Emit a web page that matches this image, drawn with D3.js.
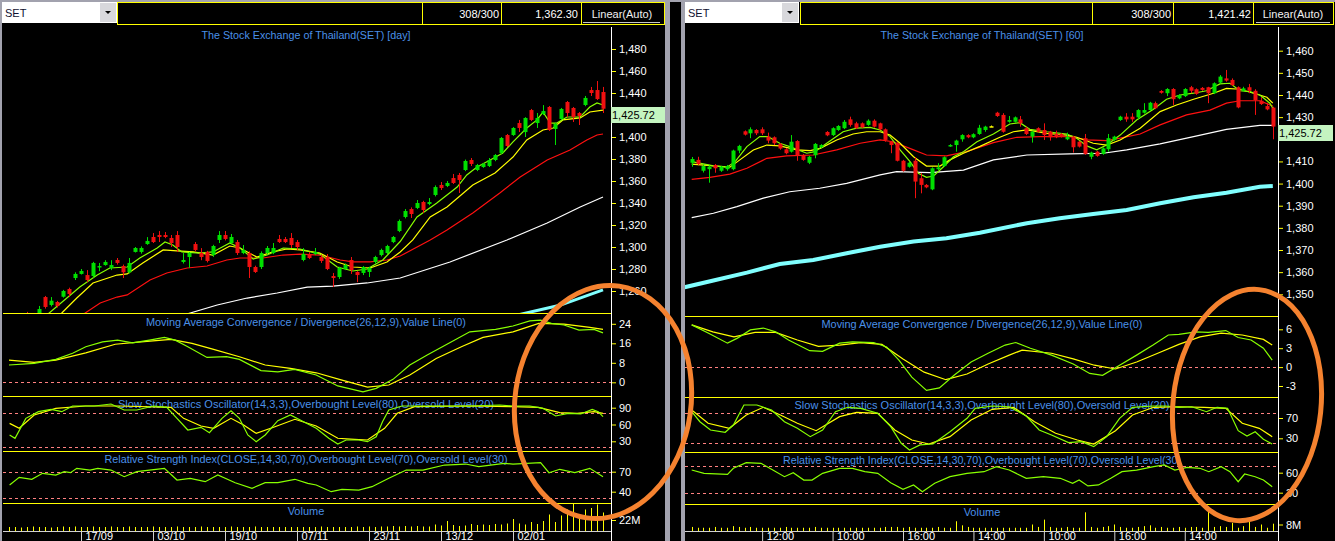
<!DOCTYPE html>
<html><head><meta charset="utf-8">
<script src="https://cdn.jsdelivr.net/npm/d3@7"></script>
<style>
html,body{margin:0;padding:0;background:#000;overflow:hidden}
svg{display:block;font-family:"Liberation Sans",Arial,sans-serif}
</style></head><body>
<svg id="c" width="1335" height="541"></svg>
<script>
// ---------------- LEFT (daily) DATA ----------------
const leftOpen = [1218,1222,1227,1236,1235,1240,1254.5,1247.3,1250,1254.8,
1261.8,1271.8,1275.5,1274.5,1273.6,1281.8,1283.6,1281,1288.2,1282.7,
1277,1295.5,1295.5,1302.7,1309.1,1310.9,1310.9,1308.2,1310.9,1286.4,
1290.9,1302.7,1294.5,1295.5,1292.7,1306.4,1310.9,1303.6,1304.5,1294.5,
1294.5,1281.8,1281.8,1294.5,1294.5,1307.3,1307.3,1308.2,1304.5,1288.2,
1293.6,1293.6,1290.9,1290.9,1273.6,1272.7,1280,1288.2,1277.3,1276.4,
1277.3,1286.4,1292.7,1294.5,1304.5,1314.5,1327.3,1334.5,1335.5,1340.9,
1339.1,1347.3,1356.4,1355.5,1362.7,1365.5,1370,1379.1,1370,1372.7,
1373.6,1379.1,1385.5,1401.8,1401.8,1412.7,1404.5,1424.5,1412.7,1420.9,
1427.3,1407.3,1416.4,1431.8,1426.4,1421.8,1429.1,1442.7,1442.7,1440.9];
const leftHigh = [1224,1229,1233,1241,1240,1246.4,1255.5,1254.5,1251,1261,
1263,1277,1280,1279,1286.5,1285.5,1288,1288,1290,1284,
1290,1300,1300.5,1309,1312.7,1314.5,1313.6,1310.9,1314.5,1294.5,
1295.5,1304.5,1299,1296.5,1302,1314.5,1314.5,1311.8,1306.4,1301.8,
1296,1283,1296,1300.9,1303.6,1310.9,1309.1,1312.7,1306.4,1299,
1295.5,1299.1,1292.7,1293.6,1276.4,1282,1285,1290.9,1278,1282.7,
1282,1292,1298.5,1302,1310,1325,1334.5,1336,1342.7,1342,
1344.5,1356,1359.1,1360,1366.4,1367.3,1379.5,1380.9,1375.5,1376.4,
1380.9,1384.5,1400,1402.7,1409,1415.5,1418,1425.5,1421.8,1429,
1428.2,1413,1426.4,1432.7,1427.3,1422.7,1437.3,1445.5,1450.9,1445.5];
const leftLow = [1214,1219,1224,1233,1230,1239,1244,1246,1245,1254,
1254.5,1270,1275,1268,1272,1278,1283,1279,1284,1271.8,
1276,1295,1294,1302,1303.6,1304.5,1308,1300,1295.5,1285,
1281,1296,1288,1286,1291,1303.6,1306,1303,1292.7,1293.5,
1271.8,1276.4,1280,1293.5,1293.5,1303.6,1303.6,1299.1,1297.3,1287,
1289,1292.7,1285.5,1279,1263.6,1271,1279,1275.5,1268,1274.5,
1272.7,1285,1291.5,1293.5,1303.5,1313.5,1326,1326.4,1334.5,1330.9,
1338,1346,1351.8,1354.5,1357.3,1349.1,1369,1373.6,1369,1372,
1372.7,1378,1384.5,1390.9,1401,1404.5,1400,1414.5,1408.2,1420,
1405.5,1392.7,1415.5,1418.2,1413.6,1410.9,1428,1437.3,1433.6,1421.8];
const leftClose = [1222,1227,1230,1235,1238,1243.6,1245.5,1251.2,1246.4,1260,
1257.3,1275.5,1278.2,1270,1285.5,1282.7,1286.4,1283.6,1285.5,1277,
1285.5,1299.1,1299.1,1305.5,1304.5,1309.1,1309.1,1303.6,1300,1288.2,
1294.5,1297.3,1290.9,1287.3,1300.9,1310.9,1307.3,1309.1,1294.5,1297.3,
1281.8,1277.3,1294.5,1299.1,1299.1,1304.5,1304.5,1301.8,1300,1293.6,
1290,1295.5,1287.3,1280,1271.8,1280.9,1283.6,1279,1274.5,1281.8,
1280.9,1290.9,1297.3,1300.9,1309.1,1323.6,1332.7,1330,1340,1333.6,
1340.9,1354.5,1353.6,1358.2,1358.2,1360.9,1378.2,1375.5,1374.5,1375.5,
1379.1,1383.6,1399.1,1391.8,1408.2,1408.2,1417.3,1415.5,1417.3,1423.6,
1406.4,1411.8,1425.5,1421.8,1418.2,1419.1,1435.5,1440,1434.5,1425.72];
const leftVol = [8,8,7,8,9,8,8,7,8,9, 8,9,8,8,9,8,8,9,8,8, 9,8,8,8,9,8,8,8,9,8,
8,8,9,8,8,8,8,9,8,8, 8,9,8,8,8,8,8,8,8,8, 8,8,9,8,8,8,8,8,9,8,
9,8,9,9,10,9,10,9,10,9, 9,13,11,20,12,10,11,14,12,13, 12,14,13,15,24,15,13,18,14,20,
33,18,31,43,55,30,43,46,53,37];
// moving averages as [bar index, value]
const leftMaFast = [[3,1228],[6.7,1240],[11.8,1263.6],[14.7,1274.5],[16.8,1280.9],[19.7,1281.8],[21.8,1290],[24.7,1299.1],[26,1304.5],[27.3,1301.8],[28.8,1295.5],[31.8,1294.5],[34,1295.5],[36.8,1303.6],[38.5,1299.1],[40.7,1289.1],[43,1292.7],[45.7,1299.1],[48.5,1298.2],[51.8,1293.6],[54.7,1281.8],[57.3,1278.2],[59.7,1280],[62.3,1288.2],[65.2,1305],[68,1327.3],[71.3,1340],[74.7,1354.5],[76.3,1365.5],[78,1372.7],[80.2,1379.1],[82.3,1385.5],[84,1395.5],[86.3,1408.2],[88,1415.5],[89,1422.7],[90.2,1412.7],[91.3,1412.7],[93,1418.2],[95.2,1418.2],[96.8,1427.3],[98,1430.9],[99,1429.1]];
const leftMaMid = [[5,1225],[8.8,1240],[11.3,1253.6],[14,1267.3],[18,1274.5],[19.7,1275.5],[22.3,1285.5],[25.7,1297.3],[28,1296.4],[30.7,1295.5],[34,1292.7],[36.8,1300.9],[38.5,1299.1],[41.3,1290.9],[44,1295.5],[46.3,1298.2],[48.5,1297.3],[51.8,1294.5],[54.7,1286.4],[57.3,1281.8],[60.2,1280.9],[63,1286.4],[65.2,1295.5],[67.3,1306.4],[70.2,1327.3],[73,1336.4],[77.3,1356.4],[81,1367.3],[84,1381.8],[86.3,1397.3],[89,1406.4],[90.7,1408.2],[92.3,1415.5],[95.2,1417.3],[96.8,1422.7],[99,1424.5]];
const leftMaSlow = [[8,1230],[12.7,1240],[15.2,1249.1],[18,1254.5],[19.7,1256.4],[23.5,1270],[26.3,1276.4],[29.7,1280.9],[33,1282.7],[36.3,1288.2],[38.5,1290],[42.3,1290],[45.7,1292.7],[48.5,1293.6],[51.8,1292.7],[55.2,1288.2],[57.3,1286.4],[60.2,1286.4],[63,1288.2],[65.2,1291.8],[70.2,1306.4],[73,1315.5],[77.3,1330.9],[81.8,1349.1],[85.2,1363.6],[89.7,1379.1],[93.5,1388.2],[96.3,1397.3],[98,1401.8],[99,1402.7]];
const leftMaLong = [[28,1236],[30.2,1240],[34.7,1247.3],[39.7,1253.6],[44.7,1258.2],[49.7,1263.6],[54,1264.5],[59.7,1267.3],[65.2,1271.8],[73.5,1286.4],[83,1306.4],[89.7,1321.8],[95.2,1336.4],[99,1345.5]];
const leftMaCyan = [[83,1236],[91.8,1247],[99,1261]];
const leftMacd = [[0,7.1],[4.2,7.8],[7.8,9.4],[10.6,11.9],[12.8,14.6],[15.6,16.6],[18.1,17.3],[20.6,16.2],[23.4,17.3],[25.9,18.4],[27.7,17.3],[29.8,14.6],[33,10.2],[36.25,10.5],[38.4,9.4],[42,4.8],[44.8,4.3],[47.6,5.3],[51.2,3.0],[54.8,-1.5],[59,-3.9],[61.2,-2.5],[64,1.2],[66.8,7.1],[69.7,11.2],[73.3,16.0],[76.8,20.7],[81.1,21.7],[84,23.1],[86.8,25.2],[88.6,25.5],[90.4,24.2],[92.5,23.5],[95,21.4],[97.5,21.7],[99,20.3]];
const leftSignal = [[0,9.1],[4.2,8.2],[7.8,9.1],[12.8,12.1],[17.7,15.6],[22,16.6],[27,17.6],[30.5,16.0],[34.1,13.5],[38.4,10.5],[42.7,7.1],[46.9,5.7],[51.2,3.9],[55.5,0.9],[59.75,-2.0],[63.3,-1.1],[66.8,3.0],[71.2,9.8],[75.4,14.6],[79,18.4],[84,20.7],[88.3,24.2],[92.5,23.9],[96.8,22.5],[99,21.7]];
const leftStochK = [[0.1,41.3],[1,35.3],[2.8,71],[4.9,82.9],[7,87.1],[8.8,82.9],[10.6,93],[14.2,93],[17,96.6],[19.2,85.9],[21.3,85.9],[24.1,93],[26.3,90.7],[28,71],[29.8,50.2],[32,55],[33.4,45.4],[35.5,71],[37,84.6],[38.4,71],[39.8,41.3],[41.2,29.3],[42.7,41.3],[44.8,66.8],[46.9,77],[49.1,65],[51.2,53.2],[53.3,35.4],[54.8,25.2],[56.2,32.3],[58.3,32.3],[59.75,29.3],[61.2,38.2],[62.25,65],[63.3,85.9],[65.5,93],[69.7,93],[76.8,93],[81.8,94.8],[84,93],[86.8,93],[89,88.9],[91.1,75.2],[93.2,80],[95.3,78.8],[97.2,87.1],[98.2,82.9],[99,74]];
const leftStochD = [[0.1,62],[1.7,53.2],[4.2,77],[7.8,88.9],[12.75,93],[18.45,93],[27,90.7],[29.1,71],[32,57.3],[34.1,53.2],[37,71],[39.1,59.1],[41.2,44.3],[44.1,55],[47.65,69.3],[51.2,57.3],[54.8,35.4],[57.6,33.6],[59.75,32.3],[62.6,53.2],[64.7,80],[67.6,91.8],[76.8,93],[84,91.8],[88.25,90.7],[91.8,81.1],[94.7,80],[97.5,82.9],[99,80]];
const leftRsi = [[0.1,50],[1.7,61.6],[3.8,58.6],[5.6,67.6],[7.8,65],[9.2,70],[10.25,68.5],[11.3,75.1],[13.5,72.5],[14.8,75.1],[17,72.5],[19.2,62.5],[21.3,70],[23.4,72.5],[25.9,75.1],[28,57.5],[30.2,60.1],[32.7,55],[34.8,65],[37.7,53.5],[40.5,45.1],[42.7,53.5],[44.8,53.5],[47.65,58.6],[49.8,52.6],[51.2,50],[53.7,40],[55.5,43.6],[58.3,42.5],[60.5,47.5],[63.3,60.1],[66.2,72.5],[69,72.5],[72.6,80],[76.1,81.5],[78.3,77.5],[82.55,82.5],[84,81.5],[88.6,83.5],[90,68.5],[91.8,73.6],[94.3,68.5],[96.8,75.1],[99,62.5]];
const leftDates = ["17/09","03/10","19/10","07/11","23/11","13/12","02/01"];
const leftPriceTicks = [1480,1460,1440,1420,1400,1380,1360,1340,1320,1300,1280,1260];
const leftMacdTicks = [24,16,8,0];
const leftStochTicks = [90,60,30];
const leftRsiTicks = [70,40];
const leftVolTicks = [22];

// ---------------- RIGHT (60 min) DATA ----------------
const rightOpen = [1409.4,1410.7,1405.8,1406.5,1408.4,1405.8,1406.5,1406.5,1414.9,1423.6,
1422.7,1424.2,1424.5,1421.2,1420.9,1417.9,1415.5,1414.4,1419.2,1412.9,
1409.4,1412.8,1416.4,1423.3,1421.9,1424.2,1425,1429,1427.2,1427.2,
1426.5,1428.4,1427.2,1424.5,1418.9,1418.2,1410.3,1407.6,1410.3,1402.4,
1399.4,1397.4,1406.5,1407.9,1417,1417.4,1420,1421.9,1420.9,1422.4,
1424.2,1425.9,1432,1431,1427.9,1427.9,1429,1425,1421.2,1425,
1424.2,1423.4,1422.4,1422.4,1420,1421.2,1418.9,1420.5,1412.1,1414.4,
1413.4,1415.5,1419.7,1428.7,1430.2,1430.2,1429.9,1432,1433.2,1436.3,
1441.8,1440.8,1442.7,1438.5,1439.5,1443.5,1442.6,1443.2,1443.5,1440.8,
1445.6,1447.5,1446.8,1443.5,1441.9,1443.5,1441.9,1437.4,1435,1434.3];
const rightHigh = [1412,1412.1,1408.5,1408.2,1408.8,1408,1408.4,1415.3,1417.5,1424,
1425.4,1424.6,1425.4,1423,1421.3,1418.3,1416,1421.9,1419.6,1413.3,
1412.5,1418.3,1417.8,1423.7,1425.4,1426.4,1428.7,1430.2,1427.9,1427.6,
1429,1429,1427.5,1424.9,1419.3,1418.6,1410.7,1409.8,1411.9,1404.8,
1399.8,1407.3,1409.2,1412.3,1417.8,1419.8,1422.3,1422.3,1422.7,1426.5,
1426.1,1426.2,1432.4,1431.8,1430.5,1430.3,1430.5,1425.7,1423.8,1425.4,
1427.2,1423.8,1423.9,1422.8,1423,1421.6,1419.3,1422.4,1414.4,1414.8,
1416.3,1422.4,1421.6,1430.6,1431.8,1431.8,1433.6,1436.3,1436.9,1437,
1442.2,1443.1,1443.1,1440.4,1443.1,1444.1,1443,1443.6,1443.7,1445.7,
1449,1451.3,1447.5,1443.9,1443.7,1445,1442.6,1439,1436.5,1434.7];
const rightLow = [1407.6,1408.2,1405,1400.4,1404.9,1405.3,1405.8,1406,1413.7,1421.7,
1420.5,1421.9,1421.9,1418.2,1417.4,1415.3,1413.2,1414,1410.3,1410.3,
1408.8,1411.4,1416,1421.4,1421.5,1423.8,1424.6,1425.7,1424.6,1425,
1426.1,1425.3,1424.1,1418.9,1413.7,1410,1405.4,1407.2,1393.4,1395.6,
1397.9,1397,1406.1,1407.5,1416.6,1414.4,1418.9,1420.5,1420.5,1422,
1423.4,1425.6,1430.1,1423,1427.5,1427.5,1425.7,1421.9,1418.5,1423,
1419.7,1419.4,1420.5,1420.8,1419.6,1414,1416.3,1413,1411,1412.1,
1413,1414.4,1419.3,1428.3,1427.9,1427.9,1429,1431.6,1432.8,1433.6,
1440.6,1439.5,1435.5,1438.1,1439.1,1440.8,1440.1,1441.9,1436.3,1440.4,
1445.2,1446,1444.1,1434,1441.5,1440.8,1431,1435.5,1433.1,1420];
const rightClose = [1411.1,1408.8,1407.9,1407.6,1406.9,1407.6,1407.9,1414.9,1417,1422.1,
1424.5,1422.7,1422.7,1419.4,1418.2,1415.8,1413.7,1418.9,1412.9,1410.7,
1412.1,1417.9,1417.4,1421.8,1425,1426,1427.9,1426.5,1425,1425.4,
1428.4,1425.7,1424.5,1419.7,1417.4,1410.3,1405.8,1409.4,1400.9,1399.4,
1398.3,1406.9,1407.3,1411.9,1417.4,1419.4,1421.9,1420.9,1422.3,1425.2,
1425.7,1425.9,1430.5,1423.4,1428.7,1429.9,1427.2,1422.4,1423.4,1423.4,
1421.9,1420.9,1420.9,1421.2,1421.2,1416.4,1416.7,1413.4,1414,1412.5,
1415.9,1420.5,1421.2,1430.2,1429,1429,1433.2,1433.2,1436.5,1434,
1441,1442.7,1438.1,1440,1442.7,1441.9,1440.5,1442.3,1440.8,1445.3,
1448.3,1446.5,1444.5,1434.4,1443,1441.9,1437.7,1435.9,1433.5,1425.72];
const rightVol = [5,4,4,4,5,4,4,6,5,4, 5,4,4,4,4,4,5,4,4,4, 4,5,4,4,4,4,4,4,4,4,
4,4,4,5,5,5,4,5,4,4, 4,4,5,4,4,12,7,5,4,4, 4,4,4,4,4,4,4,4,8,5,
14,5,4,4,5,4,4,23,5,4, 5,6,8,5,4,4,5,6,7,4, 5,4,4,5,4,5,5,4,30,5,
6,5,10,4,6,12,5,8,4,9];
const rightMaFast = [[0,1409.9],[3.7,1408],[6,1407.4],[7.4,1409.9],[9.4,1416.7],[11.6,1421.2],[13,1421.2],[15,1418.2],[16.7,1416.7],[19.6,1413.7],[21,1414.4],[23,1418.2],[25.8,1423.4],[28.1,1425],[30.4,1425.4],[32.1,1424.2],[33.8,1421.2],[35.5,1415.2],[37.2,1409.9],[38.6,1404.7],[40,1402.8],[41.2,1403.4],[42.9,1407.6],[44.6,1412.1],[46.3,1414.4],[48.6,1418.9],[51.4,1422.4],[54.2,1426.9],[55.9,1427.5],[57.6,1424.5],[60.5,1423.4],[63.9,1422.4],[65.6,1420.5],[67.3,1417],[69,1415.2],[70.7,1417.4],[73,1421.9],[75.8,1428.7],[78.6,1433.5],[80.9,1438.1],[83.2,1440],[85.5,1440.8],[87.7,1441.9],[90,1445],[91.7,1445.3],[93.4,1441.9],[95.1,1441.5],[96.8,1440],[98.5,1436.3],[99,1434]];
const rightMaMid = [[0,1408.8],[3.7,1408],[6.5,1407.4],[8.2,1410.7],[10.5,1415.2],[12.8,1417.4],[15,1417],[17.9,1415.2],[20.2,1414.9],[21.9,1415.9],[24.7,1419.7],[27.5,1422.4],[29.8,1423.4],[32.1,1423.4],[33.8,1421.9],[35.5,1418.2],[37.8,1412.1],[40,1407.9],[42.3,1407.9],[44,1410.7],[46.3,1413.7],[49.1,1416.8],[52.5,1420.9],[54.8,1423.4],[57.1,1424.2],[60.5,1422.7],[63.9,1421.9],[65.6,1420.9],[68.4,1418.2],[70.7,1417.4],[73,1419.7],[76.4,1425],[79.8,1432.5],[82.6,1435.5],[85.5,1438.1],[88.9,1440.8],[91.1,1443],[93.4,1442.6],[95.7,1440.8],[98,1439],[99,1436.3]];
const rightMaSlow = [[0,1401.9],[3.1,1402.8],[6.5,1404.3],[9.4,1406.9],[12.8,1411.4],[16.2,1412.5],[20.7,1412.9],[24.7,1415.2],[28.7,1418.2],[32.1,1419.7],[34.3,1418.9],[37.8,1415.2],[40,1412.9],[43.4,1412.5],[46.8,1414.4],[51.4,1418.5],[55.4,1420.9],[59.3,1421.2],[64.4,1421.2],[67.3,1419.7],[70.7,1419.4],[73,1420.5],[76.4,1422.4],[79.8,1426.5],[84.3,1431],[88.3,1433.2],[91.1,1436.3],[93.4,1437.4],[96.8,1437.4],[99,1435]];
const rightMaLong = [[0,1384.6],[3.7,1386.6],[7.7,1389.6],[12.2,1393.4],[16.7,1396.3],[21.8,1397.9],[26.4,1400.1],[32.1,1403.9],[34.9,1405.4],[40.6,1404.9],[46.3,1406.1],[51.4,1410.7],[57.1,1412.9],[64.4,1413.4],[70.1,1413.7],[74.1,1415.2],[79.8,1417.9],[85.5,1421.2],[91.1,1424.5],[96.8,1426.3],[99,1426.3]];
const rightMaCyan = [[-1.2,1353.2],[3.7,1356.2],[9.4,1359.8],[15,1363.7],[20.7,1365.5],[26.4,1368.5],[32.1,1371.5],[37.8,1373.8],[43.4,1375.3],[49.1,1377.8],[57.1,1382.1],[62.7,1384.3],[68.4,1386.3],[74.1,1388.1],[79.8,1391.1],[85.5,1393.8],[91.1,1395.9],[96.8,1398.6],[99,1398.9]];
const rightMacd = [[0,6.7],[2.8,5.4],[6.1,3.8],[7.8,4.6],[10,5.9],[12.2,6.2],[14.3,5.6],[16.5,4.3],[20.1,2.6],[22.3,2.5],[25.2,3.8],[27.4,4.0],[31,3.9],[33.2,3.2],[35.3,1.1],[37.5,-1.6],[40,-3.7],[42.2,-3.3],[44.7,-1.3],[47.6,0.8],[50.5,2.2],[53.4,3.5],[55.2,3.9],[57.7,3.0],[61.3,1.9],[65,0.5],[67.8,-1.0],[70,-1.3],[72.9,0.3],[75.8,1.9],[78.6,3.5],[81.2,5.1],[83,5.2],[85.9,5.6],[88,5.5],[91,5.8],[93.1,4.7],[95.3,4.3],[97.4,3.0],[98.9,1.1]];
const rightSignal = [[0,6.7],[3.6,5.6],[7.2,4.8],[10.8,5.5],[14.3,5.5],[18,4.3],[21.6,3.3],[25.2,3.5],[28.8,3.9],[32.4,3.6],[36,1.3],[39.6,-0.8],[43.3,-2.0],[46.9,-1.1],[50.5,0.5],[54.1,1.9],[56.3,2.7],[61.3,2.2],[65,1.3],[68.6,0.3],[72.2,-0.3],[75.8,0.8],[79.4,2.2],[83,3.6],[86.6,4.8],[90.2,5.4],[93.8,5.1],[97.4,4.4],[98.9,3.5]];
const rightStochK = [[0,82.4],[1.4,62.7],[3.2,46.4],[5.7,41.8],[7.1,56.2],[8.9,95.6],[11.1,95.6],[13.6,85.7],[15.8,62.7],[18,49.7],[20.2,33.2],[22.3,46.4],[24.5,82.4],[26.6,91.1],[28.8,89.1],[31.7,79.3],[33.9,52.9],[35.7,20.2],[37.1,7],[38.9,16.9],[41.1,18.8],[44,43],[46.9,69.4],[48.3,89.1],[51.2,93.6],[54.1,92.2],[57,73.9],[59.2,46.4],[61.3,36.5],[64.2,21.4],[66.4,23.3],[68.5,13.5],[70.7,33.2],[72.9,69.4],[75.1,91.1],[78.7,93.6],[80.8,93.6],[83,91.1],[85.2,92.2],[87.7,82.4],[89.5,91.1],[91.3,89.1],[93.1,45],[94.6,34.6],[96,43],[97.4,28],[98.9,18.8]];
const rightStochD = [[0,85.7],[2.8,59.6],[6.4,49.7],[9.3,75.9],[12.2,91.1],[15.1,75.9],[18,59.6],[21.2,45],[25.2,72.6],[28.1,81.2],[31.7,79.3],[34.6,46.4],[37.5,26.7],[40.4,18.8],[44,33.2],[47.6,66.1],[51.2,87.1],[54.8,91.1],[58.4,62.7],[62,39.9],[65.7,26.7],[68.5,18.8],[72.2,45],[75.1,75.9],[78.7,91.1],[83,92.2],[87.3,91.1],[91,89.1],[93.8,59.6],[96.7,49.7],[98.9,33.2]];
const rightRsi = [[0,64],[2.1,59.1],[6.1,57.6],[7.1,66.6],[9.3,75],[11.8,74.1],[13.6,65.1],[15.8,54],[17.3,60],[19.1,49],[20.5,49],[22.3,59.1],[25.2,66.6],[27.4,66.6],[29.5,61.5],[31.7,59.1],[33.9,45],[36,35.1],[37.8,41.6],[39.3,31.5],[41.4,44.1],[44,54],[46.9,59.1],[49.8,61.5],[51.9,69],[54.1,64],[57,51.6],[59.9,54],[62.8,51.6],[64.9,44.1],[66,49],[67.5,40.1],[69.3,41.6],[71.4,51.6],[73.3,61.5],[75.8,64],[78.7,69],[80.5,71.6],[82.3,64],[84.4,68.1],[86.6,66.6],[88.1,61.5],[90.2,69],[91.7,61.5],[93.1,46.5],[94.2,58],[96,54],[97.4,49],[98.9,39]];
const rightDates = ["12:00","10:00","16:00","14:00","10:00","16:00","14:00"];
const rightPriceTicks = [1460,1450,1440,1430,1420,1410,1400,1390,1380,1370,1360,1350];
const rightMacdTicks = [6,3,0,-3];
const rightStochTicks = [70,30];
const rightRsiTicks = [60,30];
const rightVolTicks = [8];
const dateIdx = [12,24,36,48,60,72,84];

// ---------------- DRAWING ----------------
const svg = d3.select("#c");
svg.append("rect").attr("width",1335).attr("height",541).attr("fill","#000");
const defs = svg.append("defs");
const FONT = "Liberation Sans, Arial, sans-serif";
const BLUE = "#4a90e8";

function drawSide(o){
  const g = svg.append("g");
  const bands = [[o.top,o.seps[0]],[o.seps[0],o.seps[1]],[o.seps[1],o.seps[2]],[o.seps[2],o.seps[3]],[o.seps[3],o.bottom]];
  const clips = bands.map((b,k)=>{
    const id = o.id+"clip"+k;
    defs.append("clipPath").attr("id",id).append("rect")
      .attr("x",o.x0).attr("y",b[0]+1).attr("width",o.axisX-o.x0).attr("height",b[1]-b[0]-1);
    return "url(#"+id+")";
  });
  // titles
  o.titles.forEach((t,k)=>{
    const tx = g.append("text").attr("x",o.cx).attr("y",o.titleY[k]).attr("text-anchor","middle")
      .attr("dominant-baseline","central").attr("fill",BLUE).attr("font-size",11).text(t);
    if(o.titleW[k]) tx.attr("textLength",o.titleW[k]).attr("lengthAdjust","spacingAndGlyphs");
  });
  // dashed level lines
  o.dashes.forEach(([sc,v])=>{
    g.append("line").attr("x1",o.x0).attr("x2",o.axisX).attr("y1",Math.round(sc(v))+0.5).attr("y2",Math.round(sc(v))+0.5)
      .attr("stroke","#ff8080").attr("stroke-dasharray","3,3");
  });
  // separators
  o.seps.forEach(y=> g.append("line").attr("x1",o.x0).attr("x2",o.axisX).attr("y1",y+0.5).attr("y2",y+0.5).attr("stroke","#ffff00"));
  const x = o.x;
  // price panel
  const pg = g.append("g").attr("clip-path",clips[0]);
  const line = (ys)=> d3.line().x(d=>x(d[0])).y(d=>ys(d[1]));
  const mas = [[o.maLong,"#ffffff",1.2],[o.maCyan,"#80ffff",o.cyanW],[o.maSlow,"#ff1010",1.2],[o.maMid,"#ffff00",1.2],[o.maFast,"#88ff00",1.2]];
  mas.forEach(([d,col,w])=> pg.append("path").attr("d",line(o.yP)(d)).attr("fill","none").attr("stroke",col).attr("stroke-width",w));
  const idx = d3.range(o.open.length);
  const colr = i => o.close[i]>o.open[i] ? "#00e000" : (o.close[i]<o.open[i] ? "#f01010" : "#ffff00");
  pg.selectAll(".wick").data(idx).join("line")
    .attr("x1",i=>Math.round(x(i))+0.5).attr("x2",i=>Math.round(x(i))+0.5)
    .attr("y1",i=>o.yP(o.high[i])).attr("y2",i=>o.yP(o.low[i])).attr("stroke",colr).attr("stroke-width",1);
  pg.selectAll(".body").data(idx).join("rect")
    .attr("x",i=>Math.round(x(i))-1.5).attr("width",4)
    .attr("y",i=>o.yP(Math.max(o.open[i],o.close[i])))
    .attr("height",i=>Math.max(1.5,Math.abs(o.yP(o.open[i])-o.yP(o.close[i]))))
    .attr("fill",colr);
  // indicators
  const ig = [[clips[1],o.yM,[[o.signal,"#ffff00"],[o.macd,"#88ff00"]]],
              [clips[2],o.yS,[[o.stochD,"#ffff00"],[o.stochK,"#88ff00"]]],
              [clips[3],o.yR,[[o.rsi,"#88ff00"]]]];
  ig.forEach(([cl,ys,ls])=>{
    const gg = g.append("g").attr("clip-path",cl);
    ls.forEach(([d,col])=> gg.append("path").attr("d",line(ys)(d)).attr("fill","none").attr("stroke",col).attr("stroke-width",1.2));
  });
  // volume
  const vg = g.append("g").attr("clip-path",clips[4]);
  vg.selectAll("line").data(idx).join("line")
    .attr("x1",i=>Math.round(x(i))+0.5).attr("x2",i=>Math.round(x(i))+0.5)
    .attr("y1",o.yV(0)).attr("y2",i=>o.yV(o.vol[i])).attr("stroke","#ffff00");
  // last price (its box hides the tick label beneath it, as in the reference)
  const lp = o.close[o.close.length-1];
  const ly = Math.round(o.yP(lp));
  const hidden = v => Math.abs(o.yP(v) - (ly+6)) < 10;
  // right value axes
  const pf = d3.format(",");
  const axes = [[o.yP,o.pTicks,v=>hidden(v)?"":pf(v)],[o.yM,o.mTicks,d=>String(d)],[o.yS,o.sTicks,d=>String(d)],[o.yR,o.rTicks,d=>String(d)],[o.yV,o.vTicks,d=>d+"M"]];
  axes.forEach(([sc,tv,fmt])=>{
    g.append("g").attr("transform",`translate(${o.axisX+1},0)`)
      .call(d3.axisRight(sc).tickValues(tv).tickSize(4).tickPadding(3).tickFormat(fmt))
      .call(a=>{
        a.attr("font-size",11).attr("font-family",FONT);
        a.select(".domain").remove();
        a.selectAll("line").attr("stroke","#ffff00");
        a.selectAll("text").attr("fill","#ffffff");
      });
  });
  g.append("line").attr("x1",o.axisX+0.5).attr("x2",o.axisX+0.5).attr("y1",o.top).attr("y2",541).attr("stroke","#ffffff");
  // date axis
  g.append("g").attr("transform",`translate(0,${o.bottom})`)
    .call(d3.axisBottom(x).tickValues(dateIdx).tickSize(10).tickFormat((d,i)=>o.dates[i]))
    .call(a=>{
      a.attr("font-size",11).attr("font-family",FONT);
      a.select(".domain").remove();
      a.selectAll("line").attr("stroke","#d0d0d0");
      a.selectAll("text").attr("fill","#ffffff").attr("text-anchor","start").attr("x",4).attr("y",1);
    });
  g.append("line").attr("x1",o.x0).attr("x2",o.axisX).attr("y1",o.bottom+0.5).attr("y2",o.bottom+0.5).attr("stroke","#d0d0d0");
  g.append("rect").attr("x",o.axisX).attr("y",ly-2).attr("width",55).attr("height",16).attr("fill","#c4f4c0");
  g.append("text").attr("x",o.axisX+1).attr("y",ly+6).attr("dominant-baseline","central").attr("font-size",11)
    .attr("fill","#000").text(d3.format(",.2f")(lp));
}

const titlesL = ["The Stock Exchange of Thailand(SET) [day]",
 "Moving Average Convergence / Divergence(26,12,9),Value Line(0)",
 "Slow Stochastics Oscillator(14,3,3),Overbought Level(80),Oversold Level(20)",
 "Relative Strength Index(CLOSE,14,30,70),Overbought Level(70),Oversold Level(30)",
 "Volume"];
const titlesR = titlesL.slice(); titlesR[0] = "The Stock Exchange of Thailand(SET) [60]";

const yLM = d3.scaleLinear([0,24],[382.3,323.8]);
const yLS = d3.scaleLinear([30,90],[441.3,407.7]);
const yLR = d3.scaleLinear([40,70],[491.7,471.7]);
drawSide({id:"L", x0:3, axisX:611, top:27, seps:[313,396,451,503], bottom:531, cx:306,
  titles:titlesL, titleY:[35,321.7,404.3,459.3,511], titleW:[209,320,376,403,0],
  x:d3.scaleLinear([0,99],[9,603]), yP:d3.scaleLinear([1260,1480],[291,49]),
  yM:yLM, yS:yLS, yR:yLR, yV:d3.scaleLinear([0,22],[531,520]),
  dashes:[[yLM,0],[yLS,80],[yLS,20],[yLR,70],[yLR,30]],
  open:leftOpen, high:leftHigh, low:leftLow, close:leftClose, vol:leftVol,
  maFast:leftMaFast, maMid:leftMaMid, maSlow:leftMaSlow, maLong:leftMaLong, maCyan:leftMaCyan, cyanW:3,
  macd:leftMacd, signal:leftSignal, stochK:leftStochK, stochD:leftStochD, rsi:leftRsi,
  pTicks:leftPriceTicks, mTicks:leftMacdTicks, sTicks:leftStochTicks, rTicks:leftRsiTicks, vTicks:leftVolTicks,
  dates:leftDates});

const yRM = d3.scaleLinear([-3,6],[386,329.3]);
const yRS = d3.scaleLinear([30,70],[438.3,418]);
const yRR = d3.scaleLinear([30,60],[492.7,472.7]);
drawSide({id:"R", x0:685, axisX:1278, top:27, seps:[316,397,452,504], bottom:531, cx:982,
  titles:titlesR, titleY:[35,324.3,405.3,460,512], titleW:[203,321,375,398,0],
  x:d3.scaleLinear([0,99],[691.7,1272.8]), yP:d3.scaleLinear([1350,1460],[294.3,50.7]),
  yM:yRM, yS:yRS, yR:yRR, yV:d3.scaleLinear([0,8],[531,524.5]),
  dashes:[[yRM,0],[yRS,80],[yRS,20],[yRR,70],[yRR,30]],
  open:rightOpen, high:rightHigh, low:rightLow, close:rightClose, vol:rightVol,
  maFast:rightMaFast, maMid:rightMaMid, maSlow:rightMaSlow, maLong:rightMaLong, maCyan:rightMaCyan, cyanW:4,
  macd:rightMacd, signal:rightSignal, stochK:rightStochK, stochD:rightStochD, rsi:rightRsi,
  pTicks:rightPriceTicks, mTicks:rightMacdTicks, sTicks:rightStochTicks, rTicks:rightRsiTicks, vTicks:rightVolTicks,
  dates:rightDates});

// headers
function header(h){
  const g = svg.append("g").attr("font-size",11);
  g.append("rect").attr("x",h.wx).attr("y",2).attr("width",h.ww).attr("height",21).attr("fill","#ffffff");
  g.append("rect").attr("x",h.bx).attr("y",3).attr("width",16).attr("height",19).attr("fill","#d8d8dc");
  g.append("path").attr("d",`M${h.bx+5},11 h6 l-3,3 z`).attr("fill","#000");
  g.append("text").attr("x",h.wx+3).attr("y",16.5).attr("fill","#101030").text("SET");
  g.append("rect").attr("x",h.yx+0.5).attr("y",2.5).attr("width",h.yw).attr("height",22).attr("fill","none").attr("stroke","#ffff00");
  h.div.forEach(d=> g.append("line").attr("x1",d+0.5).attr("x2",d+0.5).attr("y1",2.5).attr("y2",24.5).attr("stroke","#ffff00"));
  g.append("text").attr("x",h.t1).attr("y",17.5).attr("text-anchor","end").attr("fill","#fff").text(h.count);
  g.append("text").attr("x",h.t2).attr("y",17.5).attr("text-anchor","end").attr("fill","#fff").text(h.val);
  g.append("text").attr("x",h.t3).attr("y",17.5).attr("text-anchor","middle").attr("fill","#f0f0f0").text("Linear(Auto)");
  g.append("line").attr("x1",h.u[0]).attr("x2",h.u[1]).attr("y1",22.5).attr("y2",22.5).attr("stroke","#c8c8c8");
}
header({wx:2, ww:115, bx:100, yx:117, yw:547, div:[422,501,581], t1:499, t2:578, t3:622, u:[583,660], count:"308/300", val:"1,362.30"});
header({wx:685, ww:114, bx:782, yx:800, yw:533, div:[1092,1173,1253], t1:1171, t2:1251, t3:1293, u:[1256,1330], count:"308/300", val:"1,421.42"});

// window frame
const frame = "#a2a2ae";
[[0,0,1335,2],[0,0,2,541],[665,0,5,541],[681,0,4,541]].forEach(r=>
  svg.append("rect").attr("x",r[0]).attr("y",r[1]).attr("width",r[2]).attr("height",r[3]).attr("fill",frame));

// orange annotation ellipses
[[603,402,88,117,8],[1247,405,74,116,6]].forEach(e=>
  svg.append("ellipse").attr("cx",0).attr("cy",0).attr("rx",e[2]).attr("ry",e[3])
    .attr("transform",`translate(${e[0]},${e[1]}) rotate(${e[4]})`)
    .attr("fill","none").attr("stroke","#f5822f").attr("stroke-width",5));
</script>
</body></html>
